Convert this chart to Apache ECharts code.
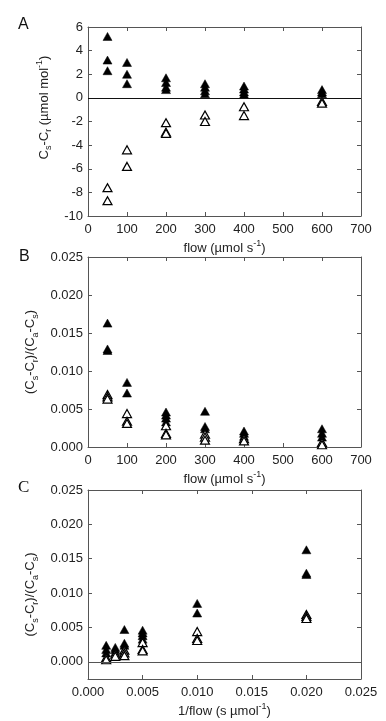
<!DOCTYPE html>
<html><head><meta charset="utf-8">
<script src="https://cdn.jsdelivr.net/npm/echarts@6/dist/echarts.min.js"></script>
<style>html,body{margin:0;padding:0;background:#fff}#c{width:386px;height:721px}</style>
</head><body><div id="c"></div>
<script>
// Panel A: Cs-Cr (µmol mol-1) vs flow
const aFilledFlow = [50,50,50, 100,100,100, 200,200,200,200, 300,300,300,300, 400,400,400,400, 600,600,600];
const aFilledVal  = [5.2,3.2,2.3, 3.0,2.0,1.2, 1.7,1.3,0.9,0.7, 1.2,0.9,0.6,0.35, 1.0,0.75,0.5,0.3, 0.7,0.5,0.35];
const aOpenFlow = [50,50, 100,100, 200,200,200, 300,300, 400,400, 600,600];
const aOpenVal  = [-7.6,-8.7, -4.4,-5.8, -2.1,-2.9,-3.0, -1.45,-2.0, -0.75,-1.5, -0.3,-0.45];
// Panel B / C: (Cs-Cr)/(Ca-Cs)
const bFilledFlow = [50,50,50, 100,100, 200,200,200,200, 300,300,300, 400,400,400, 600,600,600];
const bFilledVal  = [0.0163,0.0129,0.0127, 0.0085,0.0071, 0.0046,0.0042,0.0038,0.0033, 0.0047,0.0027,0.0024, 0.0021,0.0018,0.0014, 0.0024,0.0018,0.0013];
const bOpenFlow = [50,50,50, 100,100,100, 200,200,200, 300,300,300, 400,400, 600,600];
const bOpenVal  = [0.0069,0.0066,0.0063, 0.0044,0.0034,0.0031, 0.0028,0.0018,0.0016, 0.0017,0.0013,0.0009, 0.0011,0.0008, 0.0006,0.0003];
// tick labels
const flowTicks = [0,100,200,300,400,500,600,700];
const aYTicks = [-10,-8,-6,-4,-2,0,2,4,6];
const ratioTicks = [0,0.005,0.010,0.015,0.020,0.025];
const invFlowTicks = [0,0.005,0.010,0.015,0.020,0.025];

const zip = (xs, ys) => xs.map((x, i) => [x, ys[i]]);
const inv = (xs, ys) => xs.map((x, i) => [1 / x, ys[i]]);

const ink = '#222';
const frame = '#555';
const font = 'Liberation Sans, Arial, sans-serif';
const rich = {
  t: {fontSize: 13, fontFamily: font, color: ink, lineHeight: 18},
  sub: {fontSize: 9, fontFamily: font, color: ink, lineHeight: 10, verticalAlign: 'bottom'},
  sup: {fontSize: 9, fontFamily: font, color: ink, lineHeight: 10, verticalAlign: 'top'}
};
const fmt3 = v => v.toFixed(3);

function xMain(grid, min, max, interval, name, fmt, customVals) {
  const o = {
    type: 'value', gridIndex: grid, min, max, interval, position: 'bottom',
    name, nameLocation: 'middle', nameGap: 23,
    nameTextStyle: {rich},
    axisLine: {show: true, onZero: false, lineStyle: {color: frame, width: 1}},
    axisTick: {show: true, inside: true, length: 4, lineStyle: {color: frame}},
    axisLabel: {show: true, color: ink, fontSize: 13, fontFamily: font, margin: 7, formatter: fmt},
    splitLine: {show: false}
  };
  if (customVals) { o.axisLabel.customValues = customVals; o.axisTick.customValues = customVals; }
  return o;
}
function xMirror(grid, min, max, interval, customVals) {
  const o = {
    type: 'value', gridIndex: grid, min, max, interval, position: 'top',
    axisLine: {show: true, onZero: false, lineStyle: {color: frame, width: 1}},
    axisTick: {show: true, inside: true, length: 4, lineStyle: {color: frame}},
    axisLabel: {show: false}, splitLine: {show: false}
  };
  if (customVals) { o.axisLabel.customValues = customVals; o.axisTick.customValues = customVals; }
  return o;
}
function yMain(grid, min, max, interval, name, fmt, customVals, namePad, gap) {
  const o = {
    type: 'value', gridIndex: grid, min, max, interval, position: 'left',
    name, nameLocation: 'middle', nameGap: gap,
    nameTextStyle: {rich, padding: namePad || 0},
    axisLine: {show: true, onZero: false, lineStyle: {color: frame, width: 1}},
    axisTick: {show: true, inside: true, length: 4, lineStyle: {color: frame}},
    axisLabel: {show: true, color: ink, fontSize: 13, fontFamily: font, margin: 5, formatter: fmt},
    splitLine: {show: false}
  };
  if (customVals) { o.axisLabel.customValues = customVals; o.axisTick.customValues = customVals; }
  return o;
}
function yMirror(grid, min, max, interval, customVals) {
  const o = {
    type: 'value', gridIndex: grid, min, max, interval, position: 'right',
    axisLine: {show: true, onZero: false, lineStyle: {color: frame, width: 1}},
    axisTick: {show: true, inside: true, length: 4, lineStyle: {color: frame}},
    axisLabel: {show: false}, splitLine: {show: false}
  };
  if (customVals) { o.axisLabel.customValues = customVals; o.axisTick.customValues = customVals; }
  return o;
}

const filledStyle = {color: '#000', borderColor: '#000', borderWidth: 0.5, opacity: 1};
const openStyle = {color: '#fff', borderColor: '#000', borderWidth: 1.2, opacity: 1};
const symSize = [9, 8];

function zeroLine(color, width) {
  return {silent: true, symbol: ['none', 'none'], label: {show: false},
    lineStyle: {color, width, type: 'solid'}, data: [{yAxis: 0}], animation: false};
}

const option = {
  animation: false,
  grid: [
    {left: 88, width: 273, top: 27, height: 189},
    {left: 88, width: 273, top: 257, height: 190},
    {left: 88, width: 273, top: 490, height: 189}
  ],
  xAxis: [
    xMain(0, 0, 700, 100, '{t|flow (µmol s}{sup|-1}{t|)}', v => String(v)),
    xMain(1, 0, 700, 100, '{t|flow (µmol s}{sup|-1}{t|)}', v => String(v)),
    xMain(2, 0, 0.025, 0.005, '{t|1/flow (s µmol}{sup|-1}{t|)}', fmt3),
    xMirror(0, 0, 700, 100),
    xMirror(1, 0, 700, 100),
    xMirror(2, 0, 0.025, 0.005)
  ],
  yAxis: [
    yMain(0, -10, 6, 2, '{t|C}{sub|s}{t|-C}{sub|r}{t| (µmol mol}{sup|-1}{t|)}', v => String(v), null, [0, 0, 0, 28], 32),
    yMain(1, 0, 0.025, 0.005, '{t|(C}{sub|s}{t|-C}{sub|r}{t|)/(C}{sub|a}{t|-C}{sub|s}{t|)}', fmt3, null, 0, 31),
    yMain(2, -0.0025, 0.025, null, '{t|(C}{sub|s}{t|-C}{sub|r}{t|)/(C}{sub|a}{t|-C}{sub|s}{t|)}', fmt3, ratioTicks, [0, 20, 0, 0], 31),
    yMirror(0, -10, 6, 2),
    yMirror(1, 0, 0.025, 0.005),
    yMirror(2, -0.0025, 0.025, null, ratioTicks)
  ],
  series: [
    {type: 'scatter', xAxisIndex: 0, yAxisIndex: 0, symbol: 'triangle', symbolSize: symSize,
      itemStyle: filledStyle, data: zip(aFilledFlow, aFilledVal), markLine: zeroLine('#111', 1.2), z: 3},
    {type: 'scatter', xAxisIndex: 0, yAxisIndex: 0, symbol: 'triangle', symbolSize: symSize,
      itemStyle: openStyle, data: zip(aOpenFlow, aOpenVal), z: 4},
    {type: 'scatter', xAxisIndex: 1, yAxisIndex: 1, symbol: 'triangle', symbolSize: symSize,
      itemStyle: filledStyle, data: zip(bFilledFlow, bFilledVal), z: 3},
    {type: 'scatter', xAxisIndex: 1, yAxisIndex: 1, symbol: 'triangle', symbolSize: symSize,
      itemStyle: openStyle, data: zip(bOpenFlow, bOpenVal), z: 4},
    {type: 'scatter', xAxisIndex: 2, yAxisIndex: 2, symbol: 'triangle', symbolSize: symSize,
      itemStyle: filledStyle, data: inv(bFilledFlow, bFilledVal), markLine: zeroLine('#555', 1), z: 3},
    {type: 'scatter', xAxisIndex: 2, yAxisIndex: 2, symbol: 'triangle', symbolSize: symSize,
      itemStyle: openStyle, data: inv(bOpenFlow, bOpenVal), z: 4}
  ],
  graphic: [
    {type: 'text', left: 18, top: 17, style: {text: 'A', fontSize: 16, fontFamily: font, fill: '#111'}},
    {type: 'text', left: 19, top: 249, style: {text: 'B', fontSize: 16, fontFamily: font, fill: '#111'}},
    {type: 'text', left: 18, top: 479, style: {text: 'C', fontSize: 17, fontFamily: 'Liberation Serif, Times New Roman, serif', fill: '#111'}}
  ]
};
const chart = echarts.init(document.getElementById('c'), null, {renderer: 'canvas'});
chart.setOption(option);
</script></body></html>
